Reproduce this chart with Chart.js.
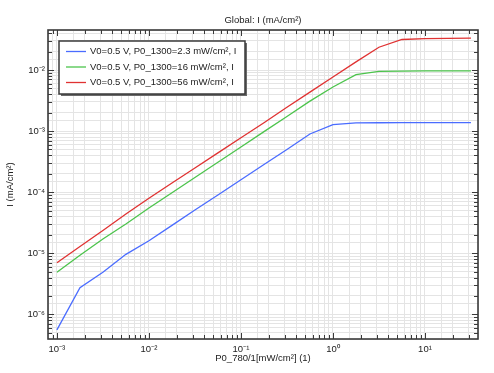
<!DOCTYPE html>
<html lang="en">
<head>
    <meta charset="UTF-8">
    <title>Global: I (mA/cm²)</title>
    <script src="https://cdn.jsdelivr.net/npm/chart.js"></script>
    <style>
        html, body { margin: 0; padding: 0; background: #fff; }
        #wrap { width: 494px; height: 373px; }
    </style>
</head>
<body>
    <div id="wrap"><canvas id="chart" width="494" height="373"></canvas></div>

    <script>
        // P0_780 sweep (mW/cm^2), quarter decade steps
        const power780 = [0.001, 0.00178, 0.00316, 0.00562, 0.01, 0.0178, 0.0316, 0.0562, 0.1, 0.178,
                          0.316, 0.562, 1, 1.78, 3.16, 5.62, 10, 17.8, 31.6];

        // current I (mA/cm^2) for each P0_1300
        const current2p3 = [5.56e-7, 2.73e-6, 4.9e-6, 9.6e-6, 1.6e-5, 2.86e-5, 5.1e-5, 9.0e-5, 1.6e-4, 2.84e-4,
                            5.0e-4, 8.97e-4, 1.28e-3, 1.36e-3, 1.37e-3, 1.38e-3, 1.38e-3, 1.38e-3, 1.38e-3];
        const current16 = [4.89e-6, 9.3e-6, 1.71e-5, 3.02e-5, 5.5e-5, 9.8e-5, 1.74e-4, 3.1e-4, 5.5e-4, 9.8e-4,
                           1.73e-3, 3.1e-3, 5.27e-3, 8.4e-3, 9.5e-3, 9.6e-3, 9.65e-3, 9.7e-3, 9.7e-3];
        const current56 = [7.0e-6, 1.29e-5, 2.36e-5, 4.4e-5, 7.98e-5, 1.41e-4, 2.49e-4, 4.4e-4, 7.8e-4, 1.37e-3,
                           2.46e-3, 4.35e-3, 7.68e-3, 1.36e-2, 2.36e-2, 3.16e-2, 3.27e-2, 3.3e-2, 3.34e-2];

        const seriesLabels = ['V0=0.5 V, P0_1300=2.3 mW/cm², I',
                              'V0=0.5 V, P0_1300=16 mW/cm², I',
                              'V0=0.5 V, P0_1300=56 mW/cm², I'];
        const seriesColors = ['#4a6cff', '#4cc44c', '#e03232'];

        const FONT = '"Liberation Sans", Arial, sans-serif';
        const SUP = { '-': '⁻', '0': '⁰', '1': '¹', '2': '²', '3': '³', '4': '⁴', '5': '⁵', '6': '⁶', '7': '⁷', '8': '⁸', '9': '⁹' };

        function decadeLabel(value) {
            const e = Math.log10(value);
            if (Math.abs(e - Math.round(e)) > 1e-6) return '';
            return '10' + String(Math.round(e)).split('').map(c => SUP[c]).join('');
        }

        // 1..9 x 10^n ticks only (skip the min/max edge ticks)
        function tickKind(v) {
            const m = v / Math.pow(10, Math.floor(Math.log10(v) + 1e-9));
            if (Math.abs(m - Math.round(m)) > 1e-6) return null;
            return Math.round(m) === 1 ? 'major' : 'minor';
        }

        function toPoints(ys) {
            return power780.map((x, i) => ({ x: x, y: ys[i] }));
        }

        const datasets = [current2p3, current16, current56].map((ys, i) => ({
            label: seriesLabels[i],
            data: toPoints(ys),
            borderColor: seriesColors[i],
            backgroundColor: seriesColors[i],
            borderWidth: 1.3,
            pointRadius: 0,
            tension: 0,
            fill: false
        }));

        // frame box with inward ticks on all four sides
        const framePlugin = {
            id: 'frame',
            afterDatasetsDraw(chart) {
                const { ctx, chartArea: a, scales } = chart;
                ctx.save();
                ctx.strokeStyle = '#3a3a3a';
                ctx.lineWidth = 1;
                ctx.beginPath();
                scales.x.ticks.forEach(t => {
                    const kind = tickKind(t.value);
                    if (!kind) return;
                    const px = Math.round(scales.x.getPixelForValue(t.value)) + 0.5;
                    if (px <= a.left + 1 || px >= a.right - 1) return;
                    const len = kind === 'major' ? 6 : 4;
                    ctx.moveTo(px, a.bottom); ctx.lineTo(px, a.bottom - len);
                    ctx.moveTo(px, a.top); ctx.lineTo(px, a.top + len);
                });
                scales.y.ticks.forEach(t => {
                    const kind = tickKind(t.value);
                    if (!kind) return;
                    const py = Math.round(scales.y.getPixelForValue(t.value)) + 0.5;
                    if (py <= a.top + 1 || py >= a.bottom - 1) return;
                    const len = kind === 'major' ? 6 : 4;
                    ctx.moveTo(a.left, py); ctx.lineTo(a.left + len, py);
                    ctx.moveTo(a.right, py); ctx.lineTo(a.right - len, py);
                });
                ctx.stroke();
                ctx.lineWidth = 1.6;
                ctx.strokeRect(a.left, a.top, a.right - a.left, a.bottom - a.top);
                ctx.restore();
            },
            afterDraw(chart) {
                // legend box with drop shadow
                const { ctx } = chart;
                const bx = 59, by = 41, bw = 186, bh = 53;
                ctx.save();
                ctx.fillStyle = '#6a6a6a';
                ctx.fillRect(bx + 2, by + 2, bw, bh);
                ctx.fillStyle = '#ffffff';
                ctx.fillRect(bx, by, bw, bh);
                ctx.strokeStyle = '#3a3a3a';
                ctx.lineWidth = 1.5;
                ctx.strokeRect(bx, by, bw, bh);
                ctx.font = '9.5px ' + FONT;
                ctx.textBaseline = 'middle';
                ctx.fillStyle = '#222';
                chart.data.datasets.forEach((ds, i) => {
                    const ry = 51.5 + i * 15.5;
                    ctx.strokeStyle = ds.borderColor;
                    ctx.lineWidth = 1.3;
                    ctx.beginPath();
                    ctx.moveTo(66, ry); ctx.lineTo(86, ry);
                    ctx.stroke();
                    ctx.fillText(ds.label, 90, ry);
                });
                ctx.restore();
            }
        };

        const gridColor = '#e4e4e4';

        new Chart(document.getElementById('chart').getContext('2d'), {
            type: 'line',
            data: { datasets: datasets },
            options: {
                responsive: false,
                animation: false,
                layout: { padding: { right: 16 } },
                plugins: {
                    legend: { display: false },
                    tooltip: { enabled: false },
                    title: {
                        display: true,
                        text: 'Global: I (mA/cm²)',
                        fullSize: false,
                        color: '#222',
                        font: { family: FONT, size: 9.5, weight: 'normal', lineHeight: 1.2 },
                        padding: { top: 15, bottom: 3.6 }
                    }
                },
                scales: {
                    x: {
                        type: 'logarithmic',
                        position: 'bottom',
                        min: 0.0008,
                        max: 37.7,
                        grid: { color: gridColor, drawTicks: false, tickLength: 0 },
                        border: { display: false },
                        ticks: {
                            autoSkip: false,
                            maxRotation: 0,
                            padding: 5,
                            color: '#222',
                            font: { family: FONT, size: 9.5 },
                            callback: decadeLabel
                        },
                        title: {
                            display: true,
                            text: 'P0_780/1[mW/cm²] (1)',
                            color: '#222',
                            font: { family: FONT, size: 9.5, lineHeight: 1.2 },
                            padding: { top: 0, bottom: 9 }
                        },
                        afterFit(scale) { scale.height = 34; }
                    },
                    y: {
                        type: 'logarithmic',
                        position: 'left',
                        min: 3.95e-7,
                        max: 0.0452,
                        grid: { color: gridColor, drawTicks: false, tickLength: 0 },
                        border: { display: false },
                        ticks: {
                            autoSkip: false,
                            padding: 3,
                            color: '#222',
                            font: { family: FONT, size: 9.5 },
                            callback: decadeLabel
                        },
                        title: {
                            display: true,
                            text: 'I (mA/cm²)',
                            color: '#222',
                            font: { family: FONT, size: 9.5, lineHeight: 1.2 },
                            padding: { top: 5, bottom: 0 }
                        },
                        afterFit(scale) { scale.width = 48; }
                    }
                }
            },
            plugins: [framePlugin]
        });
    </script>
</body>
</html>
